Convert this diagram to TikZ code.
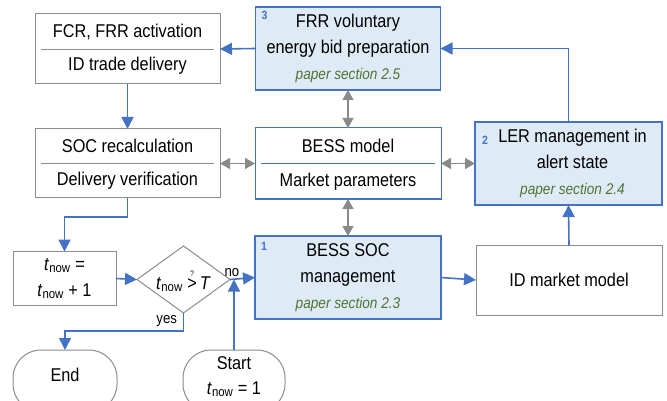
\documentclass[tikz,border=0pt]{standalone}
\usepackage{fontspec}
\setmainfont{Liberation Sans}[FakeStretch=0.88]
\usetikzlibrary{shapes.geometric,arrows.meta,calc}
\definecolor{bblue}{HTML}{4472C4}
\definecolor{bfill}{HTML}{DEEBF7}
\definecolor{bgray}{HTML}{8C8C8C}
\definecolor{agray}{HTML}{8A8A8A}
\definecolor{pgreen}{HTML}{4F7431}
\newcommand\tnw{\textit{t}\textsubscript{now}}
\newcommand\papertxt[1]{{\fontsize{15.5}{26}\selectfont\itshape\color{pgreen}#1}}
\begin{document}
\begin{tikzpicture}[x=1pt,y=-1pt,
  every node/.style={font=\fontsize{18.5}{26}\selectfont, inner sep=0pt, outer sep=0pt},
  graybox/.style={draw=bgray, line width=1pt, fill=white},
  bluebox/.style={draw=bblue, line width=1.6pt, fill=bfill, align=center},
  modelbox/.style={draw=bblue, line width=1pt, fill=white},
  divgray/.style={draw=bgray, line width=0.8pt},
  divblue/.style={draw=bblue, line width=0.8pt},
  numlbl/.style={font=\fontsize{12}{12}\selectfont\bfseries, text=bblue},
  flow/.style={draw=bblue, line width=1.6pt, -{Triangle[length=12pt,width=12pt]}},
  link/.style={draw=agray, line width=1.6pt, {Triangle[length=10pt,width=11pt]}-{Triangle[length=10pt,width=11pt]}},
  lbl/.style={font=\fontsize{15}{16}\selectfont}
]
\useasboundingbox (0,0) rectangle (667,401);
\clip (0,0) rectangle (667,401);

% left column
\node[graybox, minimum width=185pt, minimum height=70pt] (fcr) at (127.5,49) {};
\draw[divgray] ($(fcr.west)+(6,0)$) -- ($(fcr.east)+(-6,0)$);
\node (fcr1) at (127.5,32) {FCR, FRR activation};
\node (fcr2) at (127.5,66) {ID trade delivery};

\node[graybox, minimum width=185pt, minimum height=69pt] (soc) at (127.5,163.5) {};
\draw[divgray] ($(soc.west)+(6,0)$) -- ($(soc.east)+(-6,0)$);
\node (soc1) at (127.5,146) {SOC recalculation};
\node (soc2) at (127.5,181) {Delivery verification};

% middle column
\node[bluebox, minimum width=185pt, minimum height=83pt] (frr) at (348,48.5)
  {FRR voluntary\\energy bid preparation\\\papertxt{paper section 2.5}};
\node[numlbl, anchor=north west] (n3) at ($(frr.north west)+(6,4)$) {3};

\node[modelbox, minimum width=186pt, minimum height=71pt] (bess) at (348,163.5) {};
\draw[divblue] ($(bess.west)+(6,0)$) -- ($(bess.east)+(-6,0)$);
\node (bess1) at (348,146) {BESS model};
\node (bess2) at (348,182) {Market parameters};

\node[bluebox, minimum width=186pt, minimum height=83pt] (bsoc) at (348,277.5)
  {BESS SOC\\management\\\papertxt{paper section 2.3}};
\node[numlbl, anchor=north west] (n1) at ($(bsoc.north west)+(6,6)$) {1};

% right column
\node[bluebox, minimum width=187pt, minimum height=83pt] (ler) at (568.5,163.5)
  {\hspace*{8pt}LER management in\\\hspace*{8pt}alert state\\\hspace*{8pt}\papertxt{paper section 2.4}};
\node[numlbl, anchor=west] (n2) at (482,140) {2};

\node[graybox, minimum width=186pt, minimum height=70pt] (idm) at (569,280) {ID market model};

% loop part
\node[graybox, minimum width=103pt, minimum height=54pt, align=center] (tnow) at (64.5,278.5)
  {\tnw\ =\\\tnw\ + 1};
\node[diamond, draw=bgray, line width=1pt, fill=white, minimum width=93pt, minimum height=67pt] (dia) at (183.5,279.5) {};
\node (diatxt) at (183.5,281) {\tnw\ $\stackrel{\mbox{\fontsize{8}{8}\selectfont ?}}{\mbox{>}}$\,\textit{T}};

\node[draw=bgray, line width=1pt, fill=white, rounded corners=28pt, minimum width=104pt, minimum height=62pt] (endn) at (65,381) {};
\node (endtxt) at (65,375) {End};
\node[draw=bgray, line width=1pt, fill=white, rounded corners=28pt, minimum width=102pt, minimum height=62pt, align=center] (start) at (234,381) {};
\node (start1) at (234,363) {Start};
\node (start2) at (234,389) {\tnw\ = 1};

\coordinate (join) at (start.north |- dia.east);

% blue flow arrows
\draw[flow] (frr.west) -- (fcr.east);
\draw[flow] (fcr.south) -- (soc.north);
\draw[flow] (soc.south) -- ++(0,19) -| (tnow.north);
\draw[flow] (tnow.east) -- (dia.west);
\draw[flow] (dia.east) -- (bsoc.west);
\draw[flow] (start.north) -- (join);
\draw[flow] (dia.south) -- ++(0,18) -| (endn.north);
\draw[flow] (bsoc.east) -- (idm.west);
\draw[flow] (idm.north) -- (ler.south);
\draw[flow] (ler.north) |- (frr.east);

\node[lbl, anchor=south] (nolbl) at (232,277) {no};
\node[lbl, anchor=east] (yeslbl) at (177,321) {yes};

% gray links
\draw[link] (frr.south) -- (bess.north);
\draw[link] (bess.south) -- (bsoc.north);
\draw[link] (soc.east) -- (bess.west);
\draw[link] (bess.east) -- (ler.west);
\end{tikzpicture}
\end{document}
